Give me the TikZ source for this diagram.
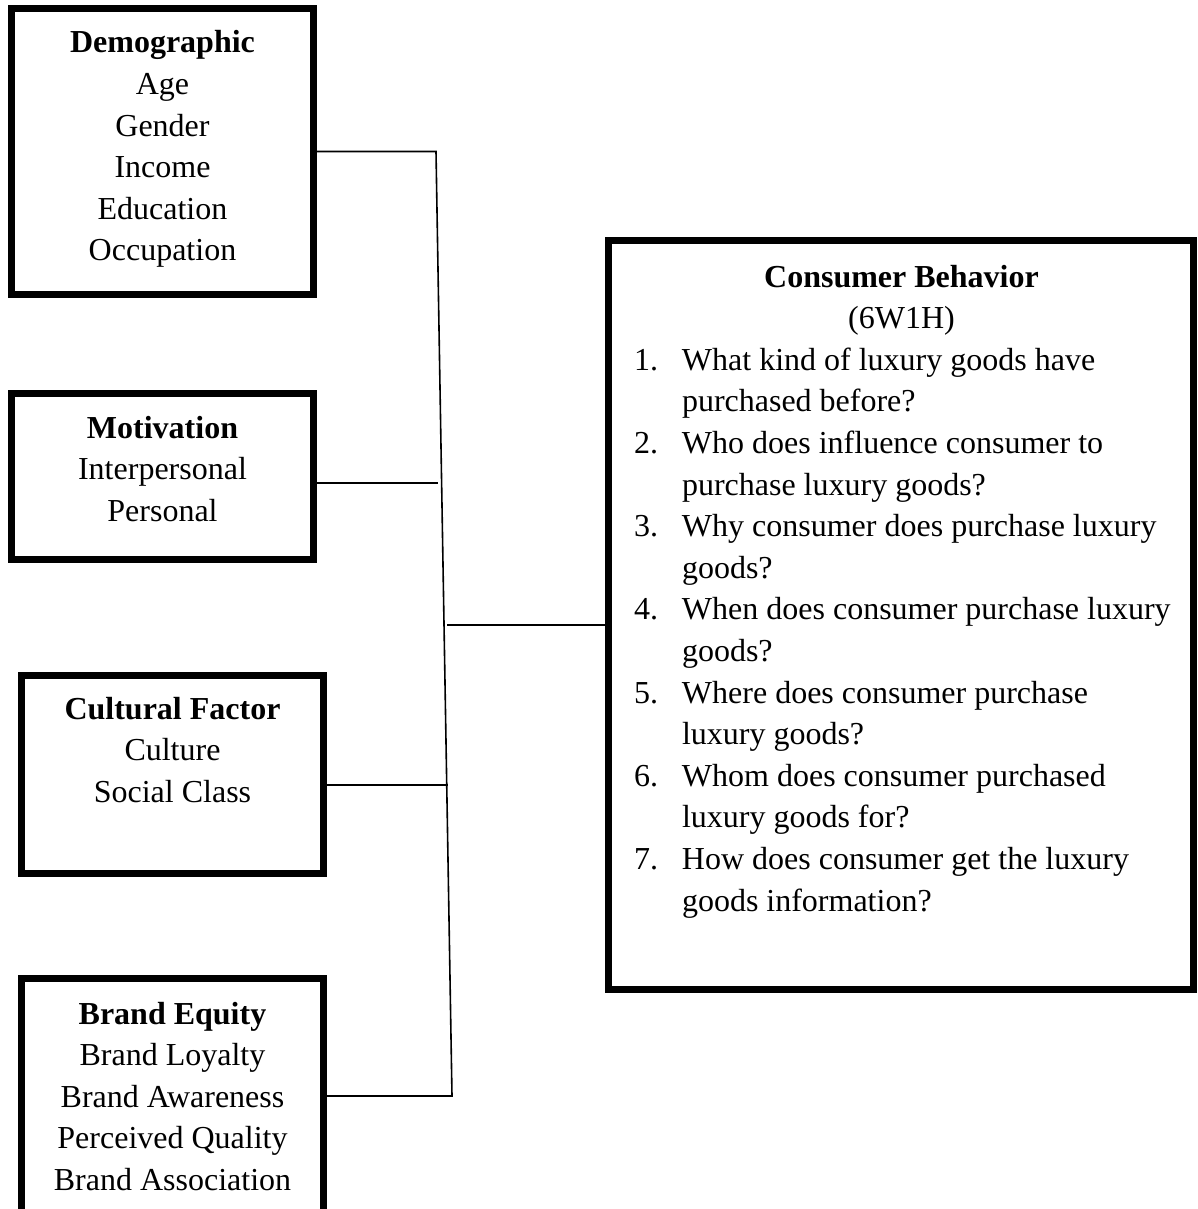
\documentclass[tikz,border=0pt]{standalone}
\usepackage{fontspec}
\setmainfont{Liberation Serif}
\newcommand\nsp{\spaceskip=8pt \xspaceskip=8pt\relax}
\begin{document}
\begin{tikzpicture}[x=1pt,y=-1pt,
  box/.style={draw=black,line width=7pt,rectangle,outer sep=0pt,inner sep=0pt},
  conn/.style={draw=black,line width=1.6pt},
  txt/.style={inner sep=0pt,outer sep=0pt,font=\fontsize{32}{41.6}\selectfont}]
\useasboundingbox (0,0) rectangle (1197,1209);
% boxes
\node[box,minimum width=302pt,minimum height=286pt] (demo) at (162.5,151.5) {};
\node[box,minimum width=302pt,minimum height=166pt] (mot) at (162.5,476.5) {};
\node[box,minimum width=302pt,minimum height=198pt] (cult) at (172.5,774.5) {};
\node[box,minimum width=302pt,minimum height=235.5pt] (brand) at (172.5,1096.25) {};
\node[box,minimum width=585pt,minimum height=748.5pt] (cb) at (901,614.75) {};
% texts
\node[txt,text width=300pt,align=center,anchor=base] (demoT) at (162.5,53)
  {\nsp\textbf{Demographic}\\Age\\Gender\\Income\\Education\\Occupation};
\node[txt,text width=300pt,align=center,anchor=base] (motT) at (162.5,438)
  {\nsp\textbf{Motivation}\\Interpersonal\\Personal};
\node[txt,text width=300pt,align=center,anchor=base] (cultT) at (172.5,719)
  {\nsp\textbf{Cultural Factor}\\Culture\\Social Class};
\node[txt,text width=300pt,align=center,anchor=base] (brandT) at (172.5,1024)
  {\nsp\textbf{Brand Equity}\\Brand Loyalty\\Brand Awareness\\Perceived Quality\\Brand Association};
\node[txt,text width=620pt,align=left,anchor=base west] (cbT) at (634,287)
  {\nsp\makebox[535pt][c]{\textbf{Consumer Behavior}}\\
   \makebox[535pt][c]{(6W1H)}\\
   \makebox[48pt][l]{1.}What kind of luxury goods have\\
   \hspace*{48pt}purchased before?\\
   \makebox[48pt][l]{2.}Who does influence consumer to\\
   \hspace*{48pt}purchase luxury goods?\\
   \makebox[48pt][l]{3.}Why consumer does purchase luxury\\
   \hspace*{48pt}goods?\\
   \makebox[48pt][l]{4.}When does consumer purchase luxury\\
   \hspace*{48pt}goods?\\
   \makebox[48pt][l]{5.}Where does consumer purchase\\
   \hspace*{48pt}luxury goods?\\
   \makebox[48pt][l]{6.}Whom does consumer purchased\\
   \hspace*{48pt}luxury goods for?\\
   \makebox[48pt][l]{7.}How does consumer get the luxury\\
   \hspace*{48pt}goods information?};
% connectors
\coordinate (vtop) at (436,151.5);
\coordinate (vbot) at (452,1096);
\coordinate (mEnd) at (438,483);
\coordinate (cEnd) at (448,785);
\coordinate (cbStart) at (447,625);
\draw[conn] (demo.east) -- (vtop) -- (vbot) -- (vbot -| brand.east);
\draw[conn] (mEnd -| mot.east) -- (mEnd);
\draw[conn] (cEnd -| cult.east) -- (cEnd);
\draw[conn] (cbStart) -- (cbStart -| cb.west);
\end{tikzpicture}
\end{document}
